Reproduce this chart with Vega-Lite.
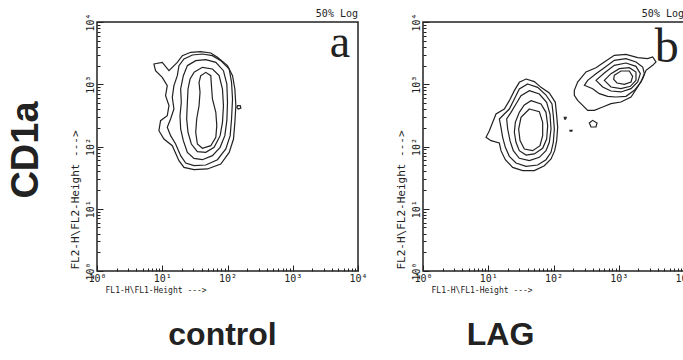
{
  "$schema": "https://vega.github.io/schema/vega-lite/v6.json",
  "background": "white",
  "padding": {"left": 8, "top": 8, "right": 0, "bottom": 0},
  "spacing": 26,
  "title": {"text": "CD1a", "orient": "left", "anchor": "middle", "font": "Liberation Sans", "fontSize": 38, "fontWeight": "bold", "color": "#222", "offset": 22, "dx": 30},
  "config": {
    "view": {"stroke": "#222", "strokeWidth": 1.5},
    "axis": {"grid": false, "domain": false, "tickColor": "#222", "tickWidth": 1, "labelColor": "#222", "titleColor": "#222"}
  },
  "datasets": {
    "control": [
      {"contour":"a1","point":1,"log10_FL1":0.872,"log10_FL2":3.325},
      {"contour":"a1","point":2,"log10_FL1":1.000,"log10_FL2":3.352},
      {"contour":"a1","point":3,"log10_FL1":1.103,"log10_FL2":3.218},
      {"contour":"a1","point":4,"log10_FL1":1.231,"log10_FL2":3.352},
      {"contour":"a1","point":5,"log10_FL1":1.308,"log10_FL2":3.459},
      {"contour":"a1","point":6,"log10_FL1":1.436,"log10_FL2":3.513},
      {"contour":"a1","point":7,"log10_FL1":1.590,"log10_FL2":3.523},
      {"contour":"a1","point":8,"log10_FL1":1.744,"log10_FL2":3.502},
      {"contour":"a1","point":9,"log10_FL1":1.846,"log10_FL2":3.432},
      {"contour":"a1","point":10,"log10_FL1":2.000,"log10_FL2":3.299},
      {"contour":"a1","point":11,"log10_FL1":2.077,"log10_FL2":3.138},
      {"contour":"a1","point":12,"log10_FL1":2.113,"log10_FL2":2.924},
      {"contour":"a1","point":13,"log10_FL1":2.128,"log10_FL2":2.656},
      {"contour":"a1","point":14,"log10_FL1":2.113,"log10_FL2":2.388},
      {"contour":"a1","point":15,"log10_FL1":2.092,"log10_FL2":2.120},
      {"contour":"a1","point":16,"log10_FL1":2.026,"log10_FL2":1.906},
      {"contour":"a1","point":17,"log10_FL1":1.897,"log10_FL2":1.719},
      {"contour":"a1","point":18,"log10_FL1":1.692,"log10_FL2":1.639},
      {"contour":"a1","point":19,"log10_FL1":1.487,"log10_FL2":1.628},
      {"contour":"a1","point":20,"log10_FL1":1.333,"log10_FL2":1.665},
      {"contour":"a1","point":21,"log10_FL1":1.256,"log10_FL2":1.772},
      {"contour":"a1","point":22,"log10_FL1":1.154,"log10_FL2":2.013},
      {"contour":"a1","point":23,"log10_FL1":1.026,"log10_FL2":2.120},
      {"contour":"a1","point":24,"log10_FL1":0.949,"log10_FL2":2.254},
      {"contour":"a1","point":25,"log10_FL1":0.974,"log10_FL2":2.415},
      {"contour":"a1","point":26,"log10_FL1":1.077,"log10_FL2":2.495},
      {"contour":"a1","point":27,"log10_FL1":1.103,"log10_FL2":2.656},
      {"contour":"a1","point":28,"log10_FL1":1.051,"log10_FL2":2.817},
      {"contour":"a1","point":29,"log10_FL1":1.077,"log10_FL2":2.977},
      {"contour":"a1","point":30,"log10_FL1":1.000,"log10_FL2":3.111},
      {"contour":"a1","point":31,"log10_FL1":0.897,"log10_FL2":3.218},
      {"contour":"a2","point":1,"log10_FL1":1.333,"log10_FL2":3.406},
      {"contour":"a2","point":2,"log10_FL1":1.462,"log10_FL2":3.470},
      {"contour":"a2","point":3,"log10_FL1":1.615,"log10_FL2":3.486},
      {"contour":"a2","point":4,"log10_FL1":1.769,"log10_FL2":3.459},
      {"contour":"a2","point":5,"log10_FL1":1.897,"log10_FL2":3.379},
      {"contour":"a2","point":6,"log10_FL1":2.026,"log10_FL2":3.245},
      {"contour":"a2","point":7,"log10_FL1":2.062,"log10_FL2":3.031},
      {"contour":"a2","point":8,"log10_FL1":2.077,"log10_FL2":2.763},
      {"contour":"a2","point":9,"log10_FL1":2.062,"log10_FL2":2.442},
      {"contour":"a2","point":10,"log10_FL1":2.041,"log10_FL2":2.174},
      {"contour":"a2","point":11,"log10_FL1":1.974,"log10_FL2":1.960},
      {"contour":"a2","point":12,"log10_FL1":1.846,"log10_FL2":1.788},
      {"contour":"a2","point":13,"log10_FL1":1.667,"log10_FL2":1.703},
      {"contour":"a2","point":14,"log10_FL1":1.487,"log10_FL2":1.692},
      {"contour":"a2","point":15,"log10_FL1":1.359,"log10_FL2":1.735},
      {"contour":"a2","point":16,"log10_FL1":1.282,"log10_FL2":1.853},
      {"contour":"a2","point":17,"log10_FL1":1.205,"log10_FL2":2.040},
      {"contour":"a2","point":18,"log10_FL1":1.128,"log10_FL2":2.174},
      {"contour":"a2","point":19,"log10_FL1":1.077,"log10_FL2":2.308},
      {"contour":"a2","point":20,"log10_FL1":1.128,"log10_FL2":2.442},
      {"contour":"a2","point":21,"log10_FL1":1.179,"log10_FL2":2.602},
      {"contour":"a2","point":22,"log10_FL1":1.154,"log10_FL2":2.790},
      {"contour":"a2","point":23,"log10_FL1":1.179,"log10_FL2":2.977},
      {"contour":"a2","point":24,"log10_FL1":1.231,"log10_FL2":3.138},
      {"contour":"a2","point":25,"log10_FL1":1.256,"log10_FL2":3.299},
      {"contour":"a3","point":1,"log10_FL1":1.385,"log10_FL2":3.299},
      {"contour":"a3","point":2,"log10_FL1":1.513,"log10_FL2":3.379},
      {"contour":"a3","point":3,"log10_FL1":1.667,"log10_FL2":3.395},
      {"contour":"a3","point":4,"log10_FL1":1.821,"log10_FL2":3.352},
      {"contour":"a3","point":5,"log10_FL1":1.938,"log10_FL2":3.218},
      {"contour":"a3","point":6,"log10_FL1":1.990,"log10_FL2":3.004},
      {"contour":"a3","point":7,"log10_FL1":2.000,"log10_FL2":2.710},
      {"contour":"a3","point":8,"log10_FL1":1.990,"log10_FL2":2.415},
      {"contour":"a3","point":9,"log10_FL1":1.959,"log10_FL2":2.174},
      {"contour":"a3","point":10,"log10_FL1":1.887,"log10_FL2":1.987},
      {"contour":"a3","point":11,"log10_FL1":1.769,"log10_FL2":1.853},
      {"contour":"a3","point":12,"log10_FL1":1.615,"log10_FL2":1.788},
      {"contour":"a3","point":13,"log10_FL1":1.487,"log10_FL2":1.810},
      {"contour":"a3","point":14,"log10_FL1":1.385,"log10_FL2":1.906},
      {"contour":"a3","point":15,"log10_FL1":1.323,"log10_FL2":2.094},
      {"contour":"a3","point":16,"log10_FL1":1.282,"log10_FL2":2.281},
      {"contour":"a3","point":17,"log10_FL1":1.272,"log10_FL2":2.495},
      {"contour":"a3","point":18,"log10_FL1":1.292,"log10_FL2":2.710},
      {"contour":"a3","point":19,"log10_FL1":1.282,"log10_FL2":2.924},
      {"contour":"a3","point":20,"log10_FL1":1.323,"log10_FL2":3.138},
      {"contour":"a4","point":1,"log10_FL1":1.487,"log10_FL2":3.191},
      {"contour":"a4","point":2,"log10_FL1":1.615,"log10_FL2":3.272},
      {"contour":"a4","point":3,"log10_FL1":1.769,"log10_FL2":3.245},
      {"contour":"a4","point":4,"log10_FL1":1.872,"log10_FL2":3.138},
      {"contour":"a4","point":5,"log10_FL1":1.923,"log10_FL2":2.924},
      {"contour":"a4","point":6,"log10_FL1":1.938,"log10_FL2":2.656},
      {"contour":"a4","point":7,"log10_FL1":1.923,"log10_FL2":2.388},
      {"contour":"a4","point":8,"log10_FL1":1.887,"log10_FL2":2.174},
      {"contour":"a4","point":9,"log10_FL1":1.795,"log10_FL2":1.987},
      {"contour":"a4","point":10,"log10_FL1":1.667,"log10_FL2":1.906},
      {"contour":"a4","point":11,"log10_FL1":1.538,"log10_FL2":1.917},
      {"contour":"a4","point":12,"log10_FL1":1.446,"log10_FL2":2.040},
      {"contour":"a4","point":13,"log10_FL1":1.395,"log10_FL2":2.228},
      {"contour":"a4","point":14,"log10_FL1":1.374,"log10_FL2":2.442},
      {"contour":"a4","point":15,"log10_FL1":1.385,"log10_FL2":2.710},
      {"contour":"a4","point":16,"log10_FL1":1.395,"log10_FL2":2.924},
      {"contour":"a4","point":17,"log10_FL1":1.426,"log10_FL2":3.084},
      {"contour":"a5","point":1,"log10_FL1":1.590,"log10_FL2":3.138},
      {"contour":"a5","point":2,"log10_FL1":1.667,"log10_FL2":3.191},
      {"contour":"a5","point":3,"log10_FL1":1.744,"log10_FL2":3.138},
      {"contour":"a5","point":4,"log10_FL1":1.754,"log10_FL2":2.977},
      {"contour":"a5","point":5,"log10_FL1":1.769,"log10_FL2":2.763},
      {"contour":"a5","point":6,"log10_FL1":1.821,"log10_FL2":2.549},
      {"contour":"a5","point":7,"log10_FL1":1.836,"log10_FL2":2.335},
      {"contour":"a5","point":8,"log10_FL1":1.821,"log10_FL2":2.147},
      {"contour":"a5","point":9,"log10_FL1":1.744,"log10_FL2":2.013},
      {"contour":"a5","point":10,"log10_FL1":1.615,"log10_FL2":1.971},
      {"contour":"a5","point":11,"log10_FL1":1.538,"log10_FL2":2.040},
      {"contour":"a5","point":12,"log10_FL1":1.513,"log10_FL2":2.228},
      {"contour":"a5","point":13,"log10_FL1":1.528,"log10_FL2":2.442},
      {"contour":"a5","point":14,"log10_FL1":1.564,"log10_FL2":2.656},
      {"contour":"a5","point":15,"log10_FL1":1.579,"log10_FL2":2.870},
      {"contour":"a5","point":16,"log10_FL1":1.564,"log10_FL2":3.031},
      {"contour":"a6","point":1,"log10_FL1":2.154,"log10_FL2":2.656},
      {"contour":"a6","point":2,"log10_FL1":2.195,"log10_FL2":2.656},
      {"contour":"a6","point":3,"log10_FL1":2.205,"log10_FL2":2.618},
      {"contour":"a6","point":4,"log10_FL1":2.164,"log10_FL2":2.602},
      {"contour":"a6","point":5,"log10_FL1":2.144,"log10_FL2":2.629}
    ],
    "lag": [
      {"contour":"b1","point":1,"log10_FL1":1.579,"log10_FL2":3.084},
      {"contour":"b1","point":2,"log10_FL1":1.706,"log10_FL2":3.042},
      {"contour":"b1","point":3,"log10_FL1":1.808,"log10_FL2":2.950},
      {"contour":"b1","point":4,"log10_FL1":1.936,"log10_FL2":2.859},
      {"contour":"b1","point":5,"log10_FL1":2.028,"log10_FL2":2.710},
      {"contour":"b1","point":6,"log10_FL1":2.049,"log10_FL2":2.495},
      {"contour":"b1","point":7,"log10_FL1":2.064,"log10_FL2":2.308},
      {"contour":"b1","point":8,"log10_FL1":2.049,"log10_FL2":2.094},
      {"contour":"b1","point":9,"log10_FL1":2.018,"log10_FL2":1.933},
      {"contour":"b1","point":10,"log10_FL1":1.962,"log10_FL2":1.799},
      {"contour":"b1","point":11,"log10_FL1":1.860,"log10_FL2":1.692},
      {"contour":"b1","point":12,"log10_FL1":1.706,"log10_FL2":1.612},
      {"contour":"b1","point":13,"log10_FL1":1.527,"log10_FL2":1.612},
      {"contour":"b1","point":14,"log10_FL1":1.374,"log10_FL2":1.665},
      {"contour":"b1","point":15,"log10_FL1":1.262,"log10_FL2":1.788},
      {"contour":"b1","point":16,"log10_FL1":1.195,"log10_FL2":1.933},
      {"contour":"b1","point":17,"log10_FL1":1.170,"log10_FL2":2.056},
      {"contour":"b1","point":18,"log10_FL1":1.042,"log10_FL2":2.094},
      {"contour":"b1","point":19,"log10_FL1":0.966,"log10_FL2":2.147},
      {"contour":"b1","point":20,"log10_FL1":1.017,"log10_FL2":2.254},
      {"contour":"b1","point":21,"log10_FL1":1.068,"log10_FL2":2.388},
      {"contour":"b1","point":22,"log10_FL1":1.119,"log10_FL2":2.522},
      {"contour":"b1","point":23,"log10_FL1":1.246,"log10_FL2":2.602},
      {"contour":"b1","point":24,"log10_FL1":1.323,"log10_FL2":2.736},
      {"contour":"b1","point":25,"log10_FL1":1.400,"log10_FL2":2.897},
      {"contour":"b1","point":26,"log10_FL1":1.476,"log10_FL2":3.031},
      {"contour":"b2","point":1,"log10_FL1":1.604,"log10_FL2":3.004},
      {"contour":"b2","point":2,"log10_FL1":1.757,"log10_FL2":2.950},
      {"contour":"b2","point":3,"log10_FL1":1.885,"log10_FL2":2.827},
      {"contour":"b2","point":4,"log10_FL1":1.977,"log10_FL2":2.683},
      {"contour":"b2","point":5,"log10_FL1":1.997,"log10_FL2":2.495},
      {"contour":"b2","point":6,"log10_FL1":2.013,"log10_FL2":2.281},
      {"contour":"b2","point":7,"log10_FL1":1.997,"log10_FL2":2.067},
      {"contour":"b2","point":8,"log10_FL1":1.962,"log10_FL2":1.906},
      {"contour":"b2","point":9,"log10_FL1":1.885,"log10_FL2":1.788},
      {"contour":"b2","point":10,"log10_FL1":1.757,"log10_FL2":1.703},
      {"contour":"b2","point":11,"log10_FL1":1.579,"log10_FL2":1.681},
      {"contour":"b2","point":12,"log10_FL1":1.425,"log10_FL2":1.735},
      {"contour":"b2","point":13,"log10_FL1":1.323,"log10_FL2":1.842},
      {"contour":"b2","point":14,"log10_FL1":1.262,"log10_FL2":1.987},
      {"contour":"b2","point":15,"log10_FL1":1.221,"log10_FL2":2.147},
      {"contour":"b2","point":16,"log10_FL1":1.195,"log10_FL2":2.308},
      {"contour":"b2","point":17,"log10_FL1":1.170,"log10_FL2":2.442},
      {"contour":"b2","point":18,"log10_FL1":1.246,"log10_FL2":2.522},
      {"contour":"b2","point":19,"log10_FL1":1.323,"log10_FL2":2.602},
      {"contour":"b2","point":20,"log10_FL1":1.400,"log10_FL2":2.763},
      {"contour":"b2","point":21,"log10_FL1":1.476,"log10_FL2":2.924},
      {"contour":"b3","point":1,"log10_FL1":1.630,"log10_FL2":2.897},
      {"contour":"b3","point":2,"log10_FL1":1.783,"log10_FL2":2.843},
      {"contour":"b3","point":3,"log10_FL1":1.895,"log10_FL2":2.710},
      {"contour":"b3","point":4,"log10_FL1":1.946,"log10_FL2":2.522},
      {"contour":"b3","point":5,"log10_FL1":1.962,"log10_FL2":2.281},
      {"contour":"b3","point":6,"log10_FL1":1.936,"log10_FL2":2.067},
      {"contour":"b3","point":7,"log10_FL1":1.885,"log10_FL2":1.933},
      {"contour":"b3","point":8,"log10_FL1":1.783,"log10_FL2":1.826},
      {"contour":"b3","point":9,"log10_FL1":1.630,"log10_FL2":1.772},
      {"contour":"b3","point":10,"log10_FL1":1.476,"log10_FL2":1.810},
      {"contour":"b3","point":11,"log10_FL1":1.384,"log10_FL2":1.933},
      {"contour":"b3","point":12,"log10_FL1":1.333,"log10_FL2":2.094},
      {"contour":"b3","point":13,"log10_FL1":1.298,"log10_FL2":2.281},
      {"contour":"b3","point":14,"log10_FL1":1.282,"log10_FL2":2.442},
      {"contour":"b3","point":15,"log10_FL1":1.349,"log10_FL2":2.549},
      {"contour":"b3","point":16,"log10_FL1":1.425,"log10_FL2":2.683},
      {"contour":"b3","point":17,"log10_FL1":1.502,"log10_FL2":2.817},
      {"contour":"b4","point":1,"log10_FL1":1.655,"log10_FL2":2.736},
      {"contour":"b4","point":2,"log10_FL1":1.808,"log10_FL2":2.683},
      {"contour":"b4","point":3,"log10_FL1":1.885,"log10_FL2":2.549},
      {"contour":"b4","point":4,"log10_FL1":1.911,"log10_FL2":2.335},
      {"contour":"b4","point":5,"log10_FL1":1.895,"log10_FL2":2.120},
      {"contour":"b4","point":6,"log10_FL1":1.834,"log10_FL2":1.971},
      {"contour":"b4","point":7,"log10_FL1":1.706,"log10_FL2":1.880},
      {"contour":"b4","point":8,"log10_FL1":1.579,"log10_FL2":1.863},
      {"contour":"b4","point":9,"log10_FL1":1.476,"log10_FL2":1.933},
      {"contour":"b4","point":10,"log10_FL1":1.425,"log10_FL2":2.067},
      {"contour":"b4","point":11,"log10_FL1":1.400,"log10_FL2":2.228},
      {"contour":"b4","point":12,"log10_FL1":1.415,"log10_FL2":2.388},
      {"contour":"b4","point":13,"log10_FL1":1.476,"log10_FL2":2.549},
      {"contour":"b4","point":14,"log10_FL1":1.553,"log10_FL2":2.667},
      {"contour":"b5","point":1,"log10_FL1":1.630,"log10_FL2":2.602},
      {"contour":"b5","point":2,"log10_FL1":1.783,"log10_FL2":2.560},
      {"contour":"b5","point":3,"log10_FL1":1.834,"log10_FL2":2.388},
      {"contour":"b5","point":4,"log10_FL1":1.834,"log10_FL2":2.174},
      {"contour":"b5","point":5,"log10_FL1":1.793,"log10_FL2":2.013},
      {"contour":"b5","point":6,"log10_FL1":1.681,"log10_FL2":1.933},
      {"contour":"b5","point":7,"log10_FL1":1.553,"log10_FL2":1.960},
      {"contour":"b5","point":8,"log10_FL1":1.487,"log10_FL2":2.094},
      {"contour":"b5","point":9,"log10_FL1":1.466,"log10_FL2":2.281},
      {"contour":"b5","point":10,"log10_FL1":1.502,"log10_FL2":2.469},
      {"contour":"b6","point":1,"log10_FL1":2.165,"log10_FL2":2.470},
      {"contour":"b6","point":2,"log10_FL1":2.195,"log10_FL2":2.470},
      {"contour":"b6","point":3,"log10_FL1":2.185,"log10_FL2":2.440},
      {"contour":"b6","point":4,"log10_FL1":2.172,"log10_FL2":2.440},
      {"contour":"b7","point":1,"log10_FL1":2.252,"log10_FL2":2.260},
      {"contour":"b7","point":2,"log10_FL1":2.285,"log10_FL2":2.260},
      {"contour":"b7","point":3,"log10_FL1":2.280,"log10_FL2":2.245},
      {"contour":"b7","point":4,"log10_FL1":2.255,"log10_FL2":2.245},
      {"contour":"r1","point":1,"log10_FL1":2.319,"log10_FL2":2.902},
      {"contour":"r1","point":2,"log10_FL1":2.370,"log10_FL2":3.036},
      {"contour":"r1","point":3,"log10_FL1":2.498,"log10_FL2":3.197},
      {"contour":"r1","point":4,"log10_FL1":2.651,"log10_FL2":3.266},
      {"contour":"r1","point":5,"log10_FL1":2.779,"log10_FL2":3.357},
      {"contour":"r1","point":6,"log10_FL1":2.932,"log10_FL2":3.465},
      {"contour":"r1","point":7,"log10_FL1":3.111,"log10_FL2":3.481},
      {"contour":"r1","point":8,"log10_FL1":3.290,"log10_FL2":3.427},
      {"contour":"r1","point":9,"log10_FL1":3.443,"log10_FL2":3.411},
      {"contour":"r1","point":10,"log10_FL1":3.520,"log10_FL2":3.438},
      {"contour":"r1","point":11,"log10_FL1":3.571,"log10_FL2":3.357},
      {"contour":"r1","point":12,"log10_FL1":3.520,"log10_FL2":3.304},
      {"contour":"r1","point":13,"log10_FL1":3.418,"log10_FL2":3.224},
      {"contour":"r1","point":14,"log10_FL1":3.367,"log10_FL2":3.090},
      {"contour":"r1","point":15,"log10_FL1":3.290,"log10_FL2":2.956},
      {"contour":"r1","point":16,"log10_FL1":3.188,"log10_FL2":2.795},
      {"contour":"r1","point":17,"log10_FL1":3.034,"log10_FL2":2.715},
      {"contour":"r1","point":18,"log10_FL1":2.881,"log10_FL2":2.688},
      {"contour":"r1","point":19,"log10_FL1":2.754,"log10_FL2":2.635},
      {"contour":"r1","point":20,"log10_FL1":2.626,"log10_FL2":2.581},
      {"contour":"r1","point":21,"log10_FL1":2.524,"log10_FL2":2.581},
      {"contour":"r1","point":22,"log10_FL1":2.447,"log10_FL2":2.661},
      {"contour":"r1","point":23,"log10_FL1":2.370,"log10_FL2":2.742},
      {"contour":"r1","point":24,"log10_FL1":2.319,"log10_FL2":2.822},
      {"contour":"r2","point":1,"log10_FL1":2.473,"log10_FL2":2.983},
      {"contour":"r2","point":2,"log10_FL1":2.524,"log10_FL2":3.063},
      {"contour":"r2","point":3,"log10_FL1":2.651,"log10_FL2":3.170},
      {"contour":"r2","point":4,"log10_FL1":2.779,"log10_FL2":3.266},
      {"contour":"r2","point":5,"log10_FL1":2.932,"log10_FL2":3.384},
      {"contour":"r2","point":6,"log10_FL1":3.111,"log10_FL2":3.411},
      {"contour":"r2","point":7,"log10_FL1":3.264,"log10_FL2":3.357},
      {"contour":"r2","point":8,"log10_FL1":3.367,"log10_FL2":3.277},
      {"contour":"r2","point":9,"log10_FL1":3.392,"log10_FL2":3.170},
      {"contour":"r2","point":10,"log10_FL1":3.341,"log10_FL2":3.036},
      {"contour":"r2","point":11,"log10_FL1":3.239,"log10_FL2":2.902},
      {"contour":"r2","point":12,"log10_FL1":3.111,"log10_FL2":2.806},
      {"contour":"r2","point":13,"log10_FL1":2.958,"log10_FL2":2.795},
      {"contour":"r2","point":14,"log10_FL1":2.830,"log10_FL2":2.806},
      {"contour":"r2","point":15,"log10_FL1":2.702,"log10_FL2":2.849},
      {"contour":"r2","point":16,"log10_FL1":2.600,"log10_FL2":2.929},
      {"contour":"r3","point":1,"log10_FL1":2.651,"log10_FL2":3.063},
      {"contour":"r3","point":2,"log10_FL1":2.779,"log10_FL2":3.181},
      {"contour":"r3","point":3,"log10_FL1":2.932,"log10_FL2":3.304},
      {"contour":"r3","point":4,"log10_FL1":3.111,"log10_FL2":3.341},
      {"contour":"r3","point":5,"log10_FL1":3.264,"log10_FL2":3.288},
      {"contour":"r3","point":6,"log10_FL1":3.331,"log10_FL2":3.170},
      {"contour":"r3","point":7,"log10_FL1":3.290,"log10_FL2":3.036},
      {"contour":"r3","point":8,"log10_FL1":3.188,"log10_FL2":2.929},
      {"contour":"r3","point":9,"log10_FL1":3.034,"log10_FL2":2.876},
      {"contour":"r3","point":10,"log10_FL1":2.881,"log10_FL2":2.892},
      {"contour":"r3","point":11,"log10_FL1":2.754,"log10_FL2":2.956},
      {"contour":"r4","point":1,"log10_FL1":2.779,"log10_FL2":3.063},
      {"contour":"r4","point":2,"log10_FL1":2.881,"log10_FL2":3.170},
      {"contour":"r4","point":3,"log10_FL1":3.009,"log10_FL2":3.250},
      {"contour":"r4","point":4,"log10_FL1":3.162,"log10_FL2":3.266},
      {"contour":"r4","point":5,"log10_FL1":3.264,"log10_FL2":3.197},
      {"contour":"r4","point":6,"log10_FL1":3.264,"log10_FL2":3.063},
      {"contour":"r4","point":7,"log10_FL1":3.178,"log10_FL2":2.967},
      {"contour":"r4","point":8,"log10_FL1":3.034,"log10_FL2":2.929},
      {"contour":"r4","point":9,"log10_FL1":2.881,"log10_FL2":2.956},
      {"contour":"r5","point":1,"log10_FL1":2.932,"log10_FL2":3.143},
      {"contour":"r5","point":2,"log10_FL1":3.034,"log10_FL2":3.213},
      {"contour":"r5","point":3,"log10_FL1":3.162,"log10_FL2":3.213},
      {"contour":"r5","point":4,"log10_FL1":3.213,"log10_FL2":3.127},
      {"contour":"r5","point":5,"log10_FL1":3.188,"log10_FL2":3.036},
      {"contour":"r5","point":6,"log10_FL1":3.086,"log10_FL2":2.999},
      {"contour":"r5","point":7,"log10_FL1":2.973,"log10_FL2":3.020},
      {"contour":"r5","point":8,"log10_FL1":2.922,"log10_FL2":3.079},
      {"contour":"r6","point":1,"log10_FL1":2.549,"log10_FL2":2.378},
      {"contour":"r6","point":2,"log10_FL1":2.600,"log10_FL2":2.420},
      {"contour":"r6","point":3,"log10_FL1":2.667,"log10_FL2":2.378},
      {"contour":"r6","point":4,"log10_FL1":2.651,"log10_FL2":2.313},
      {"contour":"r6","point":5,"log10_FL1":2.575,"log10_FL2":2.313}
    ]
  },
  "hconcat": [
    {
      "width": 261,
      "height": 249,
      "title": {"text": "control", "orient": "bottom", "anchor": "middle", "frame": "group", "font": "Liberation Sans", "fontSize": 32, "fontWeight": "bold", "color": "#222", "offset": 26, "dx": -5},
      "resolve": {"axis": {"x": "independent", "y": "independent"}},
      "layer": [
        {
          "data": {"name": "control"},
          "mark": {"type": "line", "interpolate": "linear-closed", "stroke": "#222", "strokeWidth": 1.2},
          "encoding": {
            "x": {"field": "log10_FL1", "type": "quantitative", "scale": {"domain": [0, 4], "nice": false, "zero": false},
              "axis": {"orient": "bottom", "values": [0.30103,0.47712,0.60206,0.69897,0.77815,0.8451,0.90309,0.95424,1.30103,1.47712,1.60206,1.69897,1.77815,1.8451,1.90309,1.95424,2.30103,2.47712,2.60206,2.69897,2.77815,2.8451,2.90309,2.95424,3.30103,3.47712,3.60206,3.69897,3.77815,3.8451,3.90309,3.95424], "labels": false, "title": null, "tickSize": -3}},
            "y": {"field": "log10_FL2", "type": "quantitative", "scale": {"domain": [0, 4], "nice": false, "zero": false},
              "axis": {"orient": "left", "values": [0.30103,0.47712,0.60206,0.69897,0.77815,0.8451,0.90309,0.95424,1.30103,1.47712,1.60206,1.69897,1.77815,1.8451,1.90309,1.95424,2.30103,2.47712,2.60206,2.69897,2.77815,2.8451,2.90309,2.95424,3.30103,3.47712,3.60206,3.69897,3.77815,3.8451,3.90309,3.95424], "labels": false, "title": null, "tickSize": -3}},
            "detail": {"field": "contour"},
            "order": {"field": "point", "type": "quantitative"}
          }
        },
        {
          "data": {"values": [{}]},
          "mark": {"type": "text", "text": "a", "font": "Liberation Serif", "fontSize": 46, "align": "right", "baseline": "alphabetic", "color": "#222"},
          "encoding": {
            "x": {"datum": 3.88, "type": "quantitative", "scale": {"domain": [0, 4], "nice": false, "zero": false},
              "axis": {"orient": "bottom", "values": [0, 1, 2, 3, 4], "labelExpr": "datum.value == 0 ? '10⁰' : datum.value == 1 ? '10¹' : datum.value == 2 ? '10²' : datum.value == 3 ? '10³' : '10⁴'", "labelFont": "DejaVu Sans Mono", "labelFontSize": 10, "labelFlush": false, "labelOverlap": false, "labelPadding": 8, "tickSize": -6,
                "title": "FL1-H\\FL1-Height --->", "titleFont": "DejaVu Sans Mono", "titleFontSize": 8, "titleFontWeight": "normal", "titleAnchor": "start", "titleAlign": "left", "titleBaseline": "alphabetic", "titleX": 8, "titleY": 21}},
            "y": {"datum": 3.44, "type": "quantitative", "scale": {"domain": [0, 4], "nice": false, "zero": false},
              "axis": {"orient": "left", "values": [0, 1, 2, 3, 4], "labelExpr": "datum.value == 0 ? '10⁰' : datum.value == 1 ? '10¹' : datum.value == 2 ? '10²' : datum.value == 3 ? '10³' : '10⁴'", "labelFont": "DejaVu Sans Mono", "labelFontSize": 10, "labelFlush": false, "labelOverlap": false, "labelAngle": 270, "labelAlign": "center", "labelBaseline": "bottom", "labelPadding": 8, "tickSize": -6,
                "title": "FL2-H\\FL2-Height --->", "titleFont": "DejaVu Sans Mono", "titleFontSize": 11, "titleFontWeight": "normal", "titleAngle": 270, "titleAlign": "left", "titleBaseline": "alphabetic", "titleX": -19, "titleY": 247}}
          }
        },
        {
          "data": {"values": [{}]},
          "mark": {"type": "text", "text": "50% Log", "font": "DejaVu Sans Mono", "fontSize": 10, "align": "right", "baseline": "bottom", "dy": -3, "color": "#222"},
          "encoding": {
            "x": {"datum": 4, "type": "quantitative", "scale": {"domain": [0, 4], "nice": false, "zero": false}, "axis": null},
            "y": {"datum": 4, "type": "quantitative", "scale": {"domain": [0, 4], "nice": false, "zero": false}, "axis": null}
          }
        }
      ]
    },
    {
      "width": 261,
      "height": 249,
      "title": {"text": "LAG", "orient": "bottom", "anchor": "middle", "frame": "group", "font": "Liberation Sans", "fontSize": 32, "fontWeight": "bold", "color": "#222", "offset": 26, "dx": -53},
      "resolve": {"axis": {"x": "independent", "y": "independent"}},
      "layer": [
        {
          "data": {"name": "lag"},
          "mark": {"type": "line", "interpolate": "linear-closed", "stroke": "#222", "strokeWidth": 1.2},
          "encoding": {
            "x": {"field": "log10_FL1", "type": "quantitative", "scale": {"domain": [0, 4], "nice": false, "zero": false},
              "axis": {"orient": "bottom", "values": [0.30103,0.47712,0.60206,0.69897,0.77815,0.8451,0.90309,0.95424,1.30103,1.47712,1.60206,1.69897,1.77815,1.8451,1.90309,1.95424,2.30103,2.47712,2.60206,2.69897,2.77815,2.8451,2.90309,2.95424,3.30103,3.47712,3.60206,3.69897,3.77815,3.8451,3.90309,3.95424], "labels": false, "title": null, "tickSize": -3}},
            "y": {"field": "log10_FL2", "type": "quantitative", "scale": {"domain": [0, 4], "nice": false, "zero": false},
              "axis": {"orient": "left", "values": [0.30103,0.47712,0.60206,0.69897,0.77815,0.8451,0.90309,0.95424,1.30103,1.47712,1.60206,1.69897,1.77815,1.8451,1.90309,1.95424,2.30103,2.47712,2.60206,2.69897,2.77815,2.8451,2.90309,2.95424,3.30103,3.47712,3.60206,3.69897,3.77815,3.8451,3.90309,3.95424], "labels": false, "title": null, "tickSize": -3}},
            "detail": {"field": "contour"},
            "order": {"field": "point", "type": "quantitative"}
          }
        },
        {
          "data": {"values": [{}]},
          "mark": {"type": "text", "text": "b", "font": "Liberation Serif", "fontSize": 48, "align": "right", "baseline": "alphabetic", "color": "#222"},
          "encoding": {
            "x": {"datum": 3.92, "type": "quantitative", "scale": {"domain": [0, 4], "nice": false, "zero": false},
              "axis": {"orient": "bottom", "values": [0, 1, 2, 3, 4], "labelExpr": "datum.value == 0 ? '10⁰' : datum.value == 1 ? '10¹' : datum.value == 2 ? '10²' : datum.value == 3 ? '10³' : '10⁴'", "labelFont": "DejaVu Sans Mono", "labelFontSize": 10, "labelFlush": false, "labelOverlap": false, "labelPadding": 8, "tickSize": -6,
                "title": "FL1-H\\FL1-Height --->", "titleFont": "DejaVu Sans Mono", "titleFontSize": 8, "titleFontWeight": "normal", "titleAnchor": "start", "titleAlign": "left", "titleBaseline": "alphabetic", "titleX": 8, "titleY": 21}},
            "y": {"datum": 3.36, "type": "quantitative", "scale": {"domain": [0, 4], "nice": false, "zero": false},
              "axis": {"orient": "left", "values": [0, 1, 2, 3, 4], "labelExpr": "datum.value == 0 ? '10⁰' : datum.value == 1 ? '10¹' : datum.value == 2 ? '10²' : datum.value == 3 ? '10³' : '10⁴'", "labelFont": "DejaVu Sans Mono", "labelFontSize": 10, "labelFlush": false, "labelOverlap": false, "labelAngle": 270, "labelAlign": "center", "labelBaseline": "bottom", "labelPadding": 8, "tickSize": -6,
                "title": "FL2-H\\FL2-Height --->", "titleFont": "DejaVu Sans Mono", "titleFontSize": 11, "titleFontWeight": "normal", "titleAngle": 270, "titleAlign": "left", "titleBaseline": "alphabetic", "titleX": -19, "titleY": 247}}
          }
        },
        {
          "data": {"values": [{}]},
          "mark": {"type": "text", "text": "50% Log", "font": "DejaVu Sans Mono", "fontSize": 10, "align": "right", "baseline": "bottom", "dy": -3, "color": "#222"},
          "encoding": {
            "x": {"datum": 4, "type": "quantitative", "scale": {"domain": [0, 4], "nice": false, "zero": false}, "axis": null},
            "y": {"datum": 4, "type": "quantitative", "scale": {"domain": [0, 4], "nice": false, "zero": false}, "axis": null}
          }
        }
      ]
    }
  ]
}
